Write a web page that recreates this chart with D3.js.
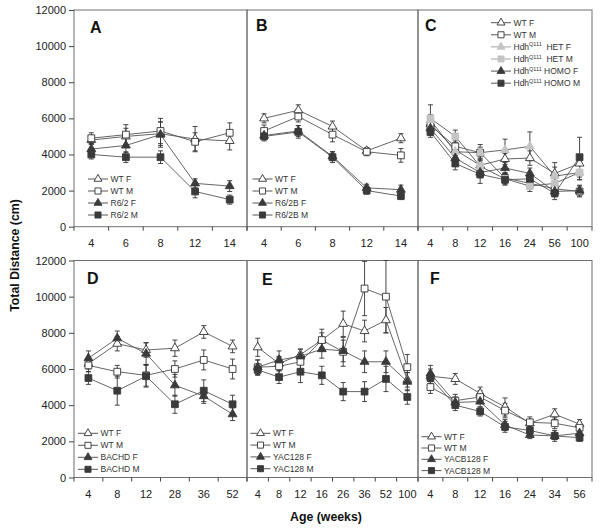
<!DOCTYPE html>
<html><head><meta charset="utf-8">
<script src="https://cdn.jsdelivr.net/npm/d3@7"></script>
<style>body{margin:0;background:#fff}text{font-family:"Liberation Sans",Arial,sans-serif}</style>
</head><body><svg id="c" width="600" height="530"></svg>
<script>
// ---------- DATA ----------
const yTickValues = [0, 2000, 4000, 6000, 8000, 10000, 12000];
const yLabel = "Total Distance (cm)";
const xLabel = "Age (weeks)";

// Panel A (R6/2)
const agesA = ["4", "6", "8", "12", "14"];
const aWTF = [4800, 5000, 5150, 4850, 4750];   const aWTFe = [250, 450, 650, 700, 500];
const aWTM = [4900, 5100, 5300, 4700, 5200];   const aWTMe = [300, 550, 700, 500, 550];
const aTGF = [4300, 4500, 5100, 2400, 2250];   const aTGFe = [300, 400, 700, 250, 300];
const aTGM = [4000, 3850, 3850, 1950, 1500];   const aTGMe = [250, 300, 350, 350, 250];
const namesA = ["WT F", "WT M", "R6/2 F", "R6/2 M"];

// Panel B (R6/2B)
const agesB = ["4", "6", "8", "12", "14"];
const bWTF = [6000, 6450, 5550, 4200, 4900];   const bWTFe = [250, 300, 300, 150, 250];
const bWTM = [5300, 6100, 5100, 4150, 3950];   const bWTMe = [330, 300, 400, 220, 380];
const bTGF = [5050, 5300, 3900, 2150, 2050];   const bTGFe = [200, 300, 250, 200, 250];
const bTGM = [5000, 5250, 3850, 2000, 1700];   const bTGMe = [250, 350, 300, 200, 200];
const namesB = ["WT F", "WT M", "R6/2B F", "R6/2B M"];

// Panel C (HdhQ111)
const agesC = ["4", "8", "12", "16", "24", "56", "100"];
const cWTF = [5700, 4250, 3400, 3750, 3800, 2950, 3500];  const cWTFe = [400, 300, 300, 300, 400, 600, 500];
const cWTM = [5600, 4450, 4100, 2700, 2400, 2100, 1950];  const cWTMe = [400, 300, 300, 300, 300, 300, 300];
const cHEF = [5900, 4150, 4100, 4250, 4450, 2800, 3000];  const cHEFe = [300, 350, 450, 600, 800, 500, 400];
const cHEM = [6000, 5000, 3350, 2650, 2250, 2400, 3000];  const cHEMe = [750, 350, 400, 300, 300, 300, 400];
const cHOF = [5450, 3800, 3000, 3250, 2950, 1950, 2000];  const cHOFe = [400, 300, 300, 300, 300, 300, 300];
const cHOM = [5250, 3500, 2900, 2600, 2650, 1850, 3850];  const cHOMe = [300, 350, 500, 300, 300, 350, 1100];
const namesC = ["WT F", "WT M", "Hdh{Q111}  HET F", "Hdh{Q111}  HET M", "Hdh{Q111} HOMO F", "Hdh{Q111} HOMO M"];

// Panel D (BACHD)
const agesD = ["4", "8", "12", "28", "36", "52"];
const dWTF = [6300, 7400, 7050, 7150, 8050, 7250];  const dWTFe = [300, 400, 400, 450, 350, 350];
const dWTM = [6200, 5850, 5650, 6000, 6500, 6000];  const dWTMe = [350, 350, 600, 450, 550, 550];
const dTGF = [6600, 7700, 6850, 5100, 4500, 3500];  const dTGFe = [400, 400, 600, 600, 400, 350];
const dTGM = [5500, 4800, 5600, 4050, 4800, 4050];  const dTGMe = [350, 800, 600, 500, 600, 500];
const namesD = ["WT F", "WT M", "BACHD F", "BACHD M"];

// Panel E (YAC128)
const agesE = ["4", "8", "12", "16", "26", "36", "52", "100"];
const eWTF = [7200, 6300, 6800, 7600, 8500, 8100, 8700, 5400];   const eWTFe = [500, 400, 300, 400, 700, 600, 700, 400];
const eWTM = [6100, 6150, 6400, 7600, 6950, 10450, 10000, 6100]; const eWTMe = [400, 500, 400, 600, 800, 1500, 2000, 700];
const eTGF = [6100, 6500, 6700, 7100, 7000, 6400, 6400, 5300];   const eTGFe = [400, 500, 400, 500, 600, 600, 600, 500];
const eTGM = [5950, 5550, 5850, 5650, 4750, 4750, 5450, 4450];   const eTGMe = [300, 350, 600, 500, 500, 550, 700, 400];
const namesE = ["WT F", "WT M", "YAC128 F", "YAC128 M"];

// Panel F (YACB128)
const agesF = ["4", "8", "12", "16", "24", "34", "56"];
const fWTF = [5600, 5450, 4650, 3900, 3000, 3500, 2950];  const fWTFe = [400, 300, 350, 500, 200, 300, 250];
const fWTM = [5000, 4250, 4450, 3700, 3050, 3000, 2750];  const fWTMe = [350, 350, 350, 400, 300, 300, 300];
const fTGF = [5750, 4150, 4200, 2900, 2350, 2300, 2450];  const fTGFe = [450, 300, 300, 300, 200, 200, 300];
const fTGM = [5500, 4000, 3650, 2800, 2600, 2300, 2200];  const fTGMe = [300, 300, 250, 300, 200, 300, 200];
const namesF = ["WT F", "WT M", "YACB128 F", "YACB128 M"];

// ---------- STYLE / LAYOUT ----------
const ST = {
  openTri:  {shape: d3.symbolTriangle, fill: "#fff",    stroke: "#333", size: 34, leg: "#444"},
  openSq:   {shape: d3.symbolSquare,   fill: "#fff",    stroke: "#333", size: 46, leg: "#444"},
  lightTri: {shape: d3.symbolTriangle, fill: "#c4c4c4", stroke: "#c4c4c4", size: 34, leg: "#9a9a9a"},
  lightSq:  {shape: d3.symbolSquare,   fill: "#c4c4c4", stroke: "#c4c4c4", size: 46, leg: "#9a9a9a"},
  darkTri:  {shape: d3.symbolTriangle, fill: "#3a3a3a", stroke: "#3a3a3a", size: 34, leg: "#444"},
  darkSq:   {shape: d3.symbolSquare,   fill: "#3a3a3a", stroke: "#3a3a3a", size: 46, leg: "#444"}
};
const four = ["openTri", "openSq", "darkTri", "darkSq"];
const six = ["openTri", "openSq", "lightTri", "lightSq", "darkTri", "darkSq"];

const rows = [{y0: 10, y1: 226.7}, {y0: 260.5, y1: 477.5}];
const cols = [[74, 247], [247, 418], [418, 592]];

const panels = [
  {letter: "A", row: 0, col: 0, ages: agesA, vals: [aWTF, aWTM, aTGF, aTGM], errs: [aWTFe, aWTMe, aTGFe, aTGMe], names: namesA, styles: four,
   lt: [90, 33], leg: [88, 179, 12]},
  {letter: "B", row: 0, col: 1, ages: agesB, vals: [bWTF, bWTM, bTGF, bTGM], errs: [bWTFe, bWTMe, bTGFe, bTGMe], names: namesB, styles: four,
   lt: [256, 31], leg: [252.5, 179, 12]},
  {letter: "C", row: 0, col: 2, ages: agesC, vals: [cWTF, cWTM, cHEF, cHEM, cHOF, cHOM], errs: [cWTFe, cWTMe, cHEFe, cHEMe, cHOFe, cHOMe], names: namesC, styles: six,
   lt: [425, 31], leg: [491, 22.7, 12.1]},
  {letter: "D", row: 1, col: 0, ages: agesD, vals: [dWTF, dWTM, dTGF, dTGM], errs: [dWTFe, dWTMe, dTGFe, dTGMe], names: namesD, styles: four,
   lt: [87, 284], leg: [78, 433.3, 12]},
  {letter: "E", row: 1, col: 1, ages: agesE, vals: [eWTF, eWTM, eTGF, eTGM], errs: [eWTFe, eWTMe, eTGFe, eTGMe], names: namesE, styles: four,
   lt: [262, 285], leg: [250.5, 433.3, 11.8]},
  {letter: "F", row: 1, col: 2, ages: agesF, vals: [fWTF, fWTM, fTGF, fTGM], errs: [fWTFe, fWTMe, fTGFe, fTGMe], names: namesF, styles: four,
   lt: [430, 284], leg: [421.5, 436.7, 11.3]}
];

const svg = d3.select("#c");
svg.append("rect").attr("width", 600).attr("height", 530).attr("fill", "#fff");

panels.forEach(p => {
  const r = rows[p.row], [x0, x1] = cols[p.col];
  const y = d3.scaleLinear().domain([0, 12000]).range([r.y1, r.y0]);
  const x = d3.scaleBand().domain(p.ages).range([x0, x1]).padding(0);
  const bw = x.bandwidth();
  const cx = a => x(a) + bw / 2;
  const g = svg.append("g");

  // frame
  g.append("rect").attr("x", x0).attr("y", r.y0).attr("width", x1 - x0).attr("height", r.y1 - r.y0)
    .attr("fill", "none").attr("stroke", "#6e6e6e").attr("stroke-width", 1);

  // x boundary ticks
  g.selectAll(".xt").data(d3.range(p.ages.length + 1)).join("line")
    .attr("x1", i => x0 + i * bw).attr("x2", i => x0 + i * bw)
    .attr("y1", r.y1).attr("y2", r.y1 + 4).attr("stroke", "#444").attr("stroke-width", 1);

  // x tick labels
  const xa = g.append("g").attr("transform", `translate(0,${r.y1})`)
    .call(d3.axisBottom(x).tickSize(0).tickPadding(12.5));
  xa.select(".domain").remove();
  xa.selectAll("text").attr("font-size", 11).attr("fill", "#222").style("font-family", '"Liberation Sans",Arial,sans-serif');

  // y axis on left panels
  if (p.col === 0) {
    const ya = g.append("g").attr("transform", `translate(${x0},0)`)
      .call(d3.axisLeft(y).tickValues(yTickValues).tickFormat(d3.format("d")).tickSize(5).tickPadding(3));
    ya.select(".domain").remove();
    ya.selectAll("line").attr("stroke", "#444");
    ya.selectAll("text").attr("font-size", 11).attr("fill", "#222").style("font-family", '"Liberation Sans",Arial,sans-serif');
  }

  // lines
  const line = d3.line().x((d, i) => cx(p.ages[i])).y(d => y(d));
  p.vals.forEach((v, si) => {
    g.append("path").datum(v).attr("d", line).attr("fill", "none")
      .attr("stroke", "#555").attr("stroke-width", 0.9);
  });
  // error bars
  p.vals.forEach((v, si) => {
    const e = p.errs[si];
    const eg = g.append("g").attr("stroke", "#333").attr("stroke-width", 0.9);
    v.forEach((d, i) => {
      const xx = cx(p.ages[i]);
      eg.append("line").attr("x1", xx).attr("x2", xx).attr("y1", y(d - e[i])).attr("y2", y(d + e[i]));
      [d - e[i], d + e[i]].forEach(t => eg.append("line").attr("x1", xx - 2.5).attr("x2", xx + 2.5).attr("y1", y(t)).attr("y2", y(t)));
    });
  });
  // markers
  p.vals.forEach((v, si) => {
    const s = ST[p.styles[si]];
    g.selectAll(null).data(v).join("path")
      .attr("d", d3.symbol().type(s.shape).size(s.size))
      .attr("transform", (d, i) => `translate(${cx(p.ages[i])},${y(d)})`)
      .attr("fill", s.fill).attr("stroke", s.stroke).attr("stroke-width", 0.9);
  });

  // panel letter
  g.append("text").attr("x", p.lt[0]).attr("y", p.lt[1]).text(p.letter)
    .attr("font-size", 16).attr("font-weight", "bold").attr("fill", "#111");

  // legend
  const [lx, ly, ls] = p.leg;
  p.names.forEach((n, i) => {
    const s = ST[p.styles[i]];
    const yy = ly + i * ls;
    g.append("line").attr("x1", lx).attr("x2", lx + 20).attr("y1", yy).attr("y2", yy)
      .attr("stroke", s.leg).attr("stroke-width", 0.9);
    g.append("path").attr("d", d3.symbol().type(s.shape).size(s.size * 0.8))
      .attr("transform", `translate(${lx + 10},${yy})`)
      .attr("fill", s.fill).attr("stroke", s.stroke).attr("stroke-width", 0.9);
    const t = g.append("text").attr("x", lx + 22.5).attr("y", yy + 3)
      .attr("font-size", 8.5).attr("fill", "#333").attr("xml:space", "preserve");
    const m = n.match(/^(.*)\{(.*)\}(.*)$/);
    if (m) {
      t.append("tspan").text(m[1]);
      t.append("tspan").attr("font-size", 5.5).attr("dy", -3.5).text(m[2]);
      t.append("tspan").attr("dy", 3.5).text(m[3]);
    } else t.text(n);
  });
});

// axis titles
svg.append("text").attr("transform", "translate(19,255.5) rotate(-90)").attr("text-anchor", "middle")
  .attr("font-size", 12.3).attr("font-weight", "bold").attr("fill", "#111").text(yLabel);
svg.append("text").attr("x", 326).attr("y", 521).attr("text-anchor", "middle")
  .attr("font-size", 12.3).attr("font-weight", "bold").attr("fill", "#111").text(xLabel);
</script></body></html>
